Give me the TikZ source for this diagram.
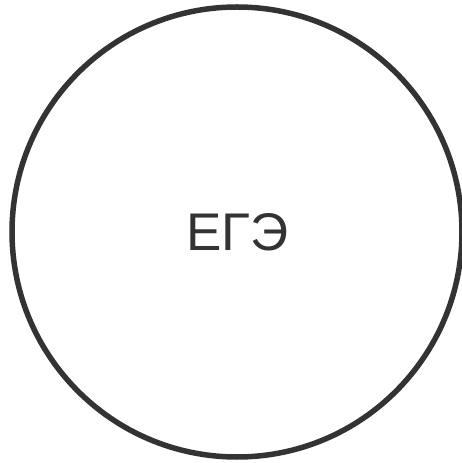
\documentclass[tikz,border=0pt]{standalone}
\usepackage{fontspec}
\setmainfont{Liberation Sans}
\definecolor{ink}{HTML}{333333}
\begin{document}
\begin{tikzpicture}[x=1pt,y=1pt,
  ring/.style={circle,draw=ink,line width=5.5pt,minimum size=450pt,inner sep=0pt},
  lbl/.style={text=ink,font=\fontsize{53}{60}\selectfont}]
\useasboundingbox (0,0) rectangle (462,463);
\node[ring] (c) at (237,231) {};
\node[lbl] (t) at (237.5,231) {ЕГЭ};
\end{tikzpicture}
\end{document}
